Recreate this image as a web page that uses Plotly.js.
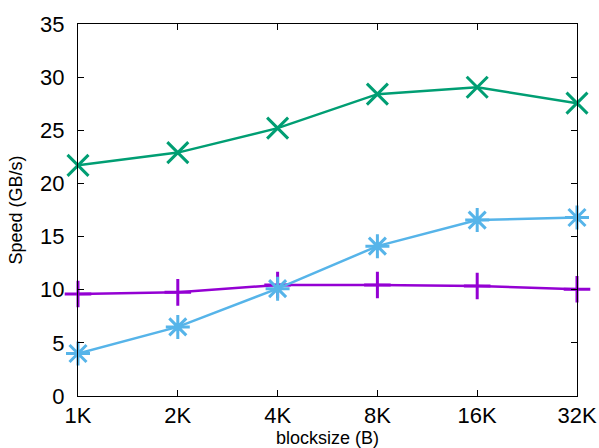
<!DOCTYPE html>
<html><head><meta charset="utf-8">
<script src="https://cdn.plot.ly/plotly-3.0.1.min.js"></script>
<style>html,body{margin:0;padding:0;background:#fff}</style>
</head><body>
<div id="chart" style="width:599px;height:448px"></div>
<script>
const blocksizes = ["1K","2K","4K","8K","16K","32K"];
const seriesGreen = [21.7, 22.9, 25.2, 28.4, 29.05, 27.55];
const seriesBlue = [4.0, 6.5, 10.1, 14.1, 16.55, 16.8];
const seriesPurple = [9.6, 9.75, 10.45, 10.45, 10.35, 10.05];
const yTicks = [0,5,10,15,20,25,30,35];

const mk = (y, color, symbol, size) => ({
  x: blocksizes, y: y, type: 'scatter', mode: 'lines+markers',
  cliponaxis: false,
  line: {color: color, width: 2.5},
  marker: {symbol: symbol, size: size, color: color, line: {color: color, width: 3}}
});

const data = [
  mk(seriesPurple, '#9400d3', 'cross-thin-open', 19),
  mk(seriesBlue, '#56b4e9', 'asterisk-open', 20),
  mk(seriesGreen, '#009e73', 'x-thin-open', 21)
];

const layout = {
  width: 599, height: 448,
  margin: {l: 78, r: 22, t: 24, b: 52},
  paper_bgcolor: '#fff', plot_bgcolor: '#fff',
  showlegend: false,
  font: {family: 'Liberation Sans, Arial, sans-serif', color: '#000'},
  xaxis: {
    type: 'category', range: [0, 5],
    showgrid: false, zeroline: false,
    showline: true, linecolor: '#000', linewidth: 1, mirror: 'allticks',
    ticks: 'inside', ticklen: 6, tickcolor: '#000',
    tickfont: {size: 22, family: 'Liberation Sans, Arial, sans-serif', color: '#000'},
    title: {text: 'blocksize (B)', font: {size: 18, color: '#000'}, standoff: 6}
  },
  yaxis: {
    range: [0, 35], tickvals: yTicks,
    showgrid: false, zeroline: false,
    showline: true, linecolor: '#000', linewidth: 1, mirror: 'allticks',
    ticks: 'inside', ticklen: 6, tickcolor: '#000',
    ticklabelstandoff: 8,
    tickfont: {size: 22, family: 'Liberation Sans, Arial, sans-serif', color: '#000'},
    title: {text: 'Speed (GB/s)', font: {size: 18, color: '#000'}, standoff: 12}
  }
};

Plotly.newPlot('chart', data, layout, {displayModeBar: false, staticPlot: true});
</script>
</body></html>
